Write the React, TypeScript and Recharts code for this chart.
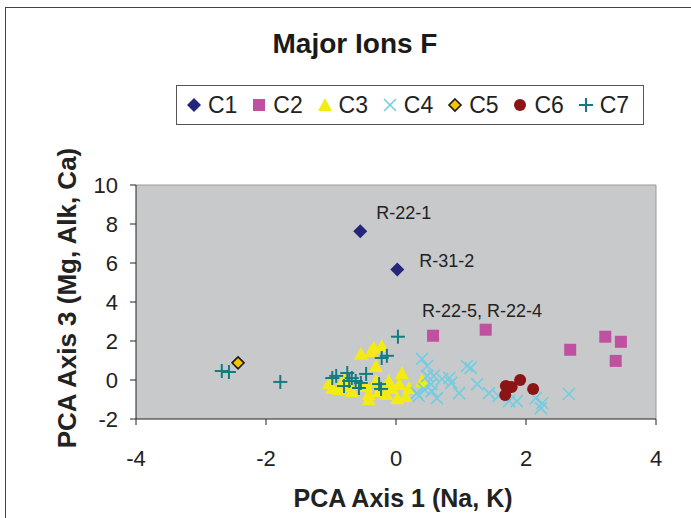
import React from "react";
import {
  ScatterChart,
  Scatter,
  XAxis,
  YAxis,
  CartesianGrid,
  Legend,
  ReferenceLine,
  LabelList,
  Label,
} from "recharts";

const xTicks = [-4, -2, 0, 2, 4];
const yTicks = [-2, 0, 2, 4, 6, 8, 10];

const c1 = [
  { x: -0.55, y: 7.63, tag: "R-22-1" },
  { x: 0.02, y: 5.67, tag: "R-31-2" },
];

const c2 = [
  { x: 0.57, y: 2.27, tag: "R-22-5, R-22-4" },
  { x: 1.38, y: 2.58 },
  { x: 2.68, y: 1.55 },
  { x: 3.22, y: 2.22 },
  { x: 3.46, y: 1.96 },
  { x: 3.38, y: 0.98 },
];

const c3 = [
  { x: -0.54, y: 1.34 }, { x: -0.38, y: 1.49 }, { x: -0.34, y: 1.65 },
  { x: -0.22, y: 1.75 }, { x: -0.31, y: 0.72 }, { x: 0.09, y: 0.36 },
  { x: -1.03, y: -0.15 }, { x: -0.98, y: -0.41 }, { x: -0.88, y: -0.46 },
  { x: -0.68, y: -0.57 }, { x: -0.42, y: -0.72 }, { x: -0.42, y: -0.98 },
  { x: -0.15, y: -0.72 }, { x: -0.06, y: -0.41 }, { x: 0.05, y: -0.21 },
  { x: 0.2, y: -0.41 }, { x: 0.15, y: -0.82 }, { x: -0.26, y: -0.57 },
  { x: -0.11, y: -0.05 }, { x: -0.46, y: -0.31 }, { x: -0.31, y: -0.05 },
  { x: 0.02, y: -0.93 }, { x: -0.72, y: -0.31 }, { x: 0.4, y: -0.05 },
  { x: -0.8, y: 0.05 }, { x: -0.57, y: -0.21 },
];

const c4 = [
  { x: 0.4, y: 1.08 }, { x: 0.48, y: 0.72 }, { x: 1.09, y: 0.72 },
  { x: 1.15, y: 0.62 }, { x: 0.48, y: 0.21 }, { x: 0.58, y: 0.21 },
  { x: 0.71, y: 0.05 }, { x: 0.82, y: 0.1 }, { x: 0.85, y: -0.15 },
  { x: 0.54, y: -0.21 }, { x: 0.43, y: -0.46 }, { x: 0.32, y: -0.67 },
  { x: 0.55, y: -0.57 }, { x: 0.63, y: -0.93 }, { x: 0.97, y: -0.67 },
  { x: 1.25, y: -0.21 }, { x: 1.43, y: -0.67 }, { x: 1.58, y: -0.82 },
  { x: 1.74, y: -1.08 }, { x: 1.86, y: -1.08 }, { x: 2.15, y: -0.93 },
  { x: 2.25, y: -1.19 }, { x: 2.23, y: -1.44 }, { x: 2.66, y: -0.72 },
  { x: 0.35, y: -0.82 },
];

const c5 = [{ x: -2.43, y: 0.88 }];

const c6 = [
  { x: 1.69, y: -0.31 },
  { x: 1.78, y: -0.36 },
  { x: 1.91, y: 0.0 },
  { x: 2.11, y: -0.46 },
  { x: 1.68, y: -0.77 },
];

const c7 = [
  { x: -2.68, y: 0.46 }, { x: -2.57, y: 0.41 }, { x: -1.78, y: -0.1 },
  { x: 0.03, y: 2.22 }, { x: -0.14, y: 1.24 }, { x: -0.22, y: 1.13 },
  { x: -0.98, y: 0.1 }, { x: -0.92, y: 0.21 }, { x: -0.75, y: 0.36 },
  { x: -0.68, y: 0.1 }, { x: -0.72, y: -0.05 }, { x: -0.54, y: -0.15 },
  { x: -0.46, y: 0.31 }, { x: -0.57, y: -0.41 }, { x: -0.8, y: -0.31 },
  { x: -0.26, y: -0.21 }, { x: -0.23, y: -0.46 }, { x: -0.62, y: -0.05 },
];

const FONT = "'Liberation Sans', Arial, sans-serif";

type Mark = "diamond" | "square" | "triangle" | "cross" | "goldDiamond" | "circle" | "plus";

function drawMark(mark: Mark, cx: number, cy: number) {
  switch (mark) {
    case "diamond":
      return <polygon points={`${cx},${cy - 7} ${cx + 7},${cy} ${cx},${cy + 7} ${cx - 7},${cy}`} fill="#23267A" />;
    case "square":
      return <rect x={cx - 6} y={cy - 6} width={12} height={12} fill="#C050A0" />;
    case "triangle":
      return <polygon points={`${cx},${cy - 7} ${cx + 7},${cy + 6} ${cx - 7},${cy + 6}`} fill="#F4EA14" />;
    case "cross":
      return (
        <g stroke="#72CDE2" strokeWidth={1.6}>
          <line x1={cx - 6} y1={cy - 6} x2={cx + 6} y2={cy + 6} />
          <line x1={cx - 6} y1={cy + 6} x2={cx + 6} y2={cy - 6} />
        </g>
      );
    case "goldDiamond":
      return (
        <polygon
          points={`${cx},${cy - 6} ${cx + 6},${cy} ${cx},${cy + 6} ${cx - 6},${cy}`}
          fill="#F6C400"
          stroke="#1a1a1a"
          strokeWidth={1.6}
        />
      );
    case "circle":
      return <circle cx={cx} cy={cy} r={6} fill="#8A1416" />;
    case "plus":
      return (
        <g stroke="#147C80" strokeWidth={2}>
          <line x1={cx - 7} y1={cy} x2={cx + 7} y2={cy} />
          <line x1={cx} y1={cy - 7} x2={cx} y2={cy + 7} />
        </g>
      );
  }
}

const series: { name: string; data: any[]; mark: Mark }[] = [
  { name: "C1", data: c1, mark: "diamond" },
  { name: "C2", data: c2, mark: "square" },
  { name: "C3", data: c3, mark: "triangle" },
  { name: "C4", data: c4, mark: "cross" },
  { name: "C5", data: c5, mark: "goldDiamond" },
  { name: "C6", data: c6, mark: "circle" },
  { name: "C7", data: c7, mark: "plus" },
];

const tagOffset: Record<string, [number, number]> = {
  "R-22-1": [16, -19],
  "R-31-2": [22, -9],
  "R-22-5, R-22-4": [-11, -25],
};

const renderTag = (props: any) => {
  const { x, y, width, height, value } = props;
  if (!value) return null;
  const cx = x + (width || 0) / 2;
  const cy = y + (height || 0) / 2;
  const [dx, dy] = tagOffset[value] || [10, -10];
  return (
    <text x={cx + dx} y={cy + dy} dy="0.35em" fontSize={18} fill="#222" fontFamily={FONT}>
      {value}
    </text>
  );
};

const renderLegend = () => (
  <div
    style={{
      display: "flex",
      alignItems: "center",
      height: 40,
      boxSizing: "border-box",
      border: "1px solid #555",
      background: "#fff",
      paddingLeft: 9,
      fontFamily: FONT,
      fontSize: 23,
      color: "#222",
    }}
  >
    {series.map((s) => (
      <div key={s.name} style={{ display: "flex", alignItems: "center", width: 66 }}>
        <svg width={16} height={16} style={{ marginRight: 6 }}>
          {drawMark(s.mark, 8, 8)}
        </svg>
        <span>{s.name}</span>
      </div>
    ))}
  </div>
);

export default function App() {
  return (
    <div
      style={{
        position: "fixed",
        left: 0,
        top: 0,
        width: 691,
        height: 518,
        overflow: "hidden",
        background: "#fff",
      }}
    >
      <div
        style={{
          position: "absolute",
          left: 5,
          top: 7,
          width: 720,
          height: 600,
          borderTop: "1px solid #444",
          borderLeft: "1px solid #444",
        }}
      />
      <div
        style={{
          position: "absolute",
          left: 0,
          top: 28,
          width: 710,
          textAlign: "center",
          fontFamily: FONT,
          fontWeight: "bold",
          fontSize: 28,
          color: "#1a1a1a",
        }}
      >
        Major Ions F
      </div>
      <ScatterChart
        width={691}
        height={518}
        margin={{ top: 185, right: 35, bottom: 7, left: 76 }}
        style={{ position: "absolute", left: 0, top: 0 }}
      >
        <CartesianGrid fill="#C8C9CB" horizontal={false} vertical={false} />
        <ReferenceLine y={10} stroke="#9a9a9a" />
        <ReferenceLine x={4} stroke="#9a9a9a" />
        <XAxis
          type="number"
          dataKey="x"
          domain={[-4, 4]}
          ticks={xTicks}
          height={92}
          tickSize={6}
          tickMargin={25}
          axisLine={{ stroke: "#222" }}
          tickLine={{ stroke: "#222" }}
          tick={{ fontSize: 22, fill: "#222", fontFamily: FONT }}
        >
          <Label
            value="PCA Axis 1 (Na, K)"
            position="insideBottom"
            offset={4}
            dx={7}
            style={{ fontSize: 25, fontWeight: "bold", fill: "#222", fontFamily: FONT }}
          />
        </XAxis>
        <YAxis
          type="number"
          dataKey="y"
          domain={[-2, 10]}
          ticks={yTicks}
          width={60}
          tickSize={6}
          tickMargin={12}
          axisLine={{ stroke: "#222" }}
          tickLine={{ stroke: "#222" }}
          tick={{ fontSize: 22, fill: "#222", fontFamily: FONT }}
        >
          <Label
            value="PCA Axis 3 (Mg, Alk, Ca)"
            angle={-90}
            position="center"
            dx={-39}
            dy={-4}
            style={{ fontSize: 26, fontWeight: "bold", fill: "#222", fontFamily: FONT, textAnchor: "middle" }}
          />
        </YAxis>
        <Legend
          verticalAlign="middle"
          layout="horizontal"
          content={renderLegend}
          wrapperStyle={{ left: 176, top: 85, width: 468, height: 40 }}
        />
        {series.map((s) => (
          <Scatter
            key={s.name}
            name={s.name}
            data={s.data}
            isAnimationActive={false}
            shape={(p: any) => drawMark(s.mark, p.cx, p.cy)}
          >
            {(s.name === "C1" || s.name === "C2") && (
              <LabelList dataKey="tag" content={renderTag} />
            )}
          </Scatter>
        ))}
      </ScatterChart>
    </div>
  );
}
